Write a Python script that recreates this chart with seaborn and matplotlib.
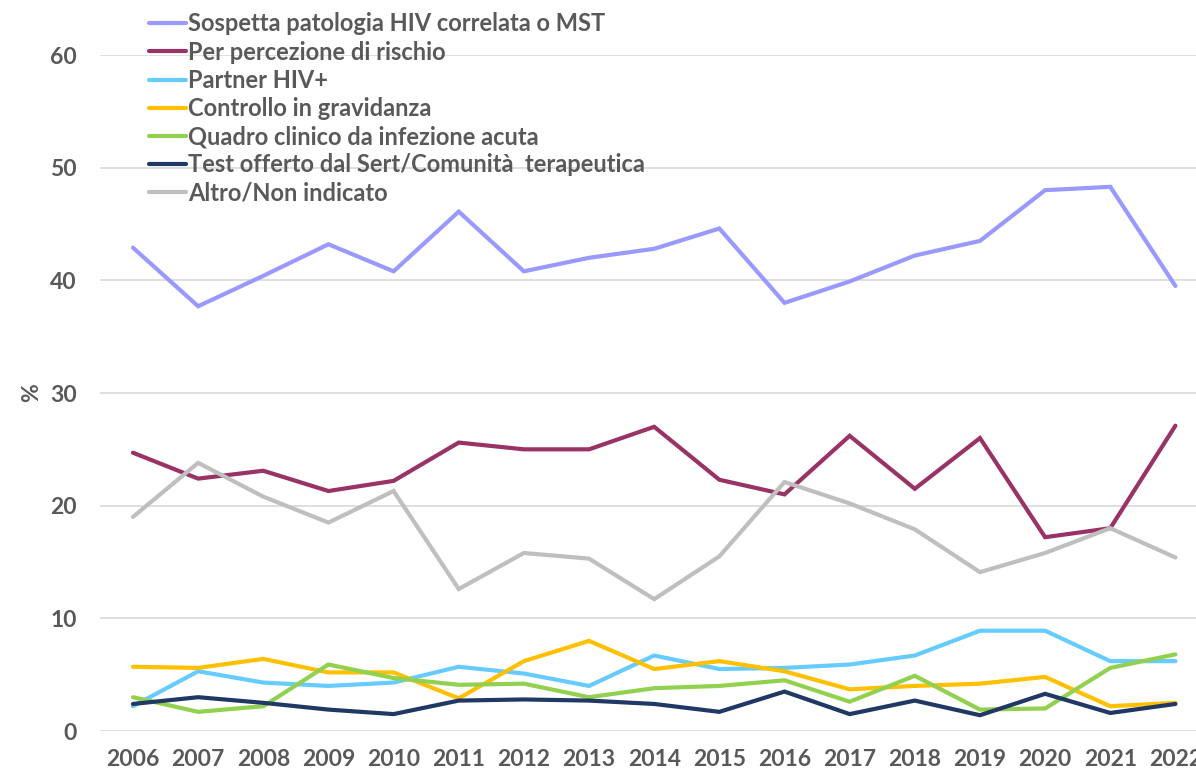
import matplotlib
matplotlib.use("Agg")
import matplotlib.pyplot as plt
import seaborn as sns
import pandas as pd

years = list(range(2006, 2023))

sospetta = [42.9, 37.7, 40.4, 43.2, 40.8, 46.1, 40.8, 42.0, 42.8, 44.6, 38.0, 39.9, 42.2, 43.5, 48.0, 48.3, 39.5]
percezione = [24.7, 22.4, 23.1, 21.3, 22.2, 25.6, 25.0, 25.0, 27.0, 22.3, 21.0, 26.2, 21.5, 26.0, 17.2, 18.0, 27.1]
partner = [2.2, 5.3, 4.3, 4.0, 4.3, 5.7, 5.1, 4.0, 6.7, 5.5, 5.6, 5.9, 6.7, 8.9, 8.9, 6.2, 6.2]
gravidanza = [5.7, 5.6, 6.4, 5.2, 5.2, 2.9, 6.2, 8.0, 5.5, 6.2, 5.3, 3.7, 4.0, 4.2, 4.8, 2.2, 2.5]
acuta = [3.0, 1.7, 2.2, 5.9, 4.7, 4.1, 4.2, 3.0, 3.8, 4.0, 4.5, 2.6, 4.9, 1.9, 2.0, 5.6, 6.8]
sert = [2.4, 3.0, 2.5, 1.9, 1.5, 2.7, 2.8, 2.7, 2.4, 1.7, 3.5, 1.5, 2.7, 1.4, 3.3, 1.6, 2.4]
altro = [19.0, 23.8, 20.8, 18.5, 21.3, 12.6, 15.8, 15.3, 11.7, 15.5, 22.1, 20.2, 17.9, 14.1, 15.8, 18.0, 15.4]

series_names = [
    "Sospetta patologia HIV correlata o MST",
    "Per percezione di rischio",
    "Partner HIV+",
    "Controllo in gravidanza",
    "Quadro clinico da infezione acuta",
    "Test offerto dal Sert/Comunità  terapeutica",
    "Altro/Non indicato",
]
series_values = [sospetta, percezione, partner, gravidanza, acuta, sert, altro]
colors = ["#9999FF", "#993366", "#66CCFF", "#FFC000", "#92D050", "#203864", "#BFBFBF"]
y_ticks = [0, 10, 20, 30, 40, 50, 60]

rows = []
for name, vals in zip(series_names, series_values):
    for y, v in zip(years, vals):
        rows.append({"Anno": y, "Valore": v, "Serie": name})
df = pd.DataFrame(rows)

sns.set_theme(style="white")
plt.rcParams["font.family"] = ["Lato", "DejaVu Sans"]

fig = plt.figure(figsize=(11.96, 7.75), dpi=100)
W, H = 1196, 775
left_px, right_px = 100.4, 1208.0
top_px, bottom_px = 55.0, 731.0
ax = fig.add_axes([left_px / W, 1 - bottom_px / H, (right_px - left_px) / W, (bottom_px - top_px) / H])

sns.lineplot(data=df, x="Anno", y="Valore", hue="Serie", hue_order=series_names,
             palette=colors, linewidth=3.0, ax=ax, legend=True, sort=False)
for line in ax.get_lines():
    line.set_solid_capstyle("round")
    line.set_solid_joinstyle("miter")
    line.set_clip_on(False)

ax.set_xlim(2005.5, 2022.5)
ax.set_ylim(0, 60)
ax.set_xticks(years)
ax.set_xticklabels([str(y) for y in years])
ax.set_yticks(y_ticks)
ax.set_yticklabels([str(t) for t in y_ticks])
ax.grid(axis="y", color="#D9D9D9", linewidth=1.2)
ax.grid(axis="x", visible=False)
ax.set_axisbelow(True)
for s in ax.spines.values():
    s.set_visible(False)

tick_color = "#595959"
ax.tick_params(axis="x", length=0, pad=13, labelsize=16.5, labelcolor=tick_color)
ax.tick_params(axis="y", length=0, pad=17, labelsize=16.5, labelcolor=tick_color)
for lab in ax.get_xticklabels() + ax.get_yticklabels():
    lab.set_fontweight("bold")

ax.set_xlabel("")
ax.set_ylabel("%", fontsize=16.5, fontweight="bold", color=tick_color, labelpad=6)

handles, labels = ax.get_legend_handles_labels()
ax.legend_.remove()
leg = fig.legend(handles, labels, loc="upper left", bbox_to_anchor=(140 / W, 1 - 3 / H),
                 frameon=False, fontsize=17, handlelength=1.55, handletextpad=0.08,
                 labelspacing=0.22, borderaxespad=0)
for t in leg.get_texts():
    t.set_color(tick_color)
    t.set_fontweight("bold")
for h in leg.get_lines():
    h.set_linewidth(3.0)
    h.set_solid_capstyle("round")

fig.savefig("out.png", dpi=100)
